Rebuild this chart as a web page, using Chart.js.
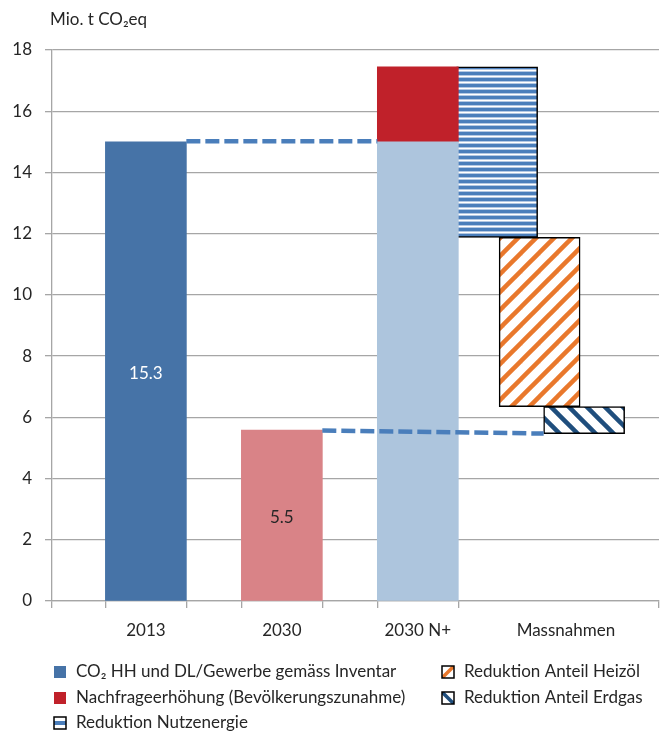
<!DOCTYPE html>
<html>
<head>
<meta charset="utf-8">
<script src="https://cdn.jsdelivr.net/npm/chart.js@4.4.1/dist/chart.umd.min.js"></script>
<style>
  html, body { margin: 0; background: #fff; }
  #wrap { width: 671px; height: 740px; }
</style>
</head>
<body>
<div id="wrap"><canvas id="chart"></canvas></div>
<script>
// values
const categories = ["2013", "2030", "2030 N+", "Massnahmen"];
const categoryX = [2.32, 5.68, 9.04, 12.7];
const baseValues = [15.0, 5.58, 15.0];
const baseLabels = ["15.3", "5.5", ""];
const demandIncrease = [15.0, 17.45];
const stepX = [11.0, 12.05, 13.15];
const reductionNutzenergie = [11.88, 17.45];
const reductionHeizoel = [6.35, 11.88];
const reductionErdgas = [5.47, 6.35];
const link2013 = [15.02, 15.02];
const link2030 = [5.57, 5.47];
const seriesNames = [
  "CO₂ HH und DL/Gewerbe gemäss Inventar",
  "Nachfrageerhöhung (Bevölkerungszunahme)",
  "Reduktion Nutzenergie",
  "Reduktion Anteil Heizöl",
  "Reduktion Anteil Erdgas",
];

const FONT = "Lato, 'Liberation Sans', sans-serif";
const TEXT = "#262626";
const GRID = "#a6a6a6";
const HALF = 1; // half bar width in x units
const baseColors = ["#4673a7", "#d98387", "#adc5dd"];
const RED = "#c0212a";
const LINK = "#4a7ebb";

const ctx0 = document.getElementById("chart").getContext("2d");

const stripes = () => {
  const c = document.createElement("canvas");
  c.width = 6; c.height = 6;
  const g = c.getContext("2d");
  g.fillStyle = "#fff"; g.fillRect(0, 0, 6, 6);
  g.fillStyle = "#4a7ebb"; g.fillRect(0, 0, 6, 3);
  g.fillStyle = "#b3c8e3"; g.fillRect(0, 3, 6, 1); g.fillRect(0, 5, 6, 1);
  return ctx0.createPattern(c, "repeat");
};
const diagonal = (color, up) => {
  const s = 18;
  const c = document.createElement("canvas");
  c.width = s; c.height = s;
  const g = c.getContext("2d");
  g.fillStyle = "#fff"; g.fillRect(0, 0, s, s);
  g.strokeStyle = color; g.lineWidth = 4.5;
  const segs = up
    ? [[0, s, s, 0], [-s / 2, s / 2, s / 2, -s / 2], [s / 2, s * 1.5, s * 1.5, s / 2]]
    : [[0, 0, s, s], [-s / 2, s / 2, s / 2, s * 1.5], [s / 2, -s / 2, s * 1.5, s / 2]];
  segs.forEach(([a, b, c2, d]) => { g.beginPath(); g.moveTo(a, b); g.lineTo(c2, d); g.stroke(); });
  return ctx0.createPattern(c, "repeat");
};

const oilColor = "#e9782c";
const gasColor = "#1f4e7d";

const barCommon = { grouped: false, barThickness: 81, borderSkipped: false, order: 1 };
const linkStyle = { type: "line", borderColor: LINK, borderWidth: 4.5, borderDash: [14, 5], pointRadius: 0, order: 0 };

const datasets = [
  {
    ...barCommon,
    label: seriesNames[0],
    data: baseValues.map((v, i) => ({ x: categoryX[i], y: [0, v] })),
    backgroundColor: baseColors,
  },
  {
    ...barCommon,
    label: seriesNames[1],
    data: [{ x: categoryX[2], y: demandIncrease }],
    backgroundColor: RED,
  },
  {
    ...barCommon,
    label: seriesNames[2],
    data: [{ x: stepX[0], y: reductionNutzenergie }],
    backgroundColor: stripes(),
    borderColor: "#000", borderWidth: 1.5,
  },
  {
    ...barCommon,
    label: seriesNames[3],
    data: [{ x: stepX[1], y: reductionHeizoel }],
    backgroundColor: diagonal(oilColor, true),
    borderColor: "#000", borderWidth: 1.5,
  },
  {
    ...barCommon,
    label: seriesNames[4],
    data: [{ x: stepX[2], y: reductionErdgas }],
    backgroundColor: diagonal(gasColor, false),
    borderColor: "#000", borderWidth: 1.5,
  },
  {
    ...linkStyle,
    data: [{ x: categoryX[0] + HALF, y: link2013[0] }, { x: categoryX[2] - HALF, y: link2013[1] }],
  },
  {
    ...linkStyle,
    data: [{ x: categoryX[1] + HALF, y: link2030[0] }, { x: stepX[2] - HALF, y: link2030[1] }],
  },
];

const edgeTicks = [0, 15];
categoryX.slice(0, 3).forEach((x) => edgeTicks.push(x - HALF, x + HALF));

const drawSwatch = (g, i, x, y) => {
  const s = 12;
  if (i < 2) {
    g.fillStyle = i === 0 ? baseColors[0] : RED;
    g.fillRect(x, y, s, s);
    return;
  }
  g.fillStyle = "#fff";
  g.fillRect(x, y, s, s);
  g.save();
  g.beginPath(); g.rect(x, y, s, s); g.clip();
  if (i === 2) {
    g.fillStyle = "#4a7ebb";
    g.fillRect(x, y + 4, s, 4);
  } else {
    g.strokeStyle = i === 3 ? oilColor : gasColor;
    g.lineWidth = 3.5;
    g.beginPath();
    if (i === 3) { g.moveTo(x, y + s); g.lineTo(x + s, y); }
    else { g.moveTo(x, y); g.lineTo(x + s, y + s); }
    g.stroke();
  }
  g.restore();
  g.strokeStyle = "#000"; g.lineWidth = 1.5;
  g.strokeRect(x, y, s, s);
};

const extras = {
  id: "extras",
  afterDatasetsDraw(chart) {
    const g = chart.ctx;
    g.save();
    g.font = `17px ${FONT}`;
    g.textAlign = "center";
    g.textBaseline = "middle";
    chart.getDatasetMeta(0).data.forEach((bar, i) => {
      if (!baseLabels[i]) return;
      g.fillStyle = i === 0 ? "#fff" : TEXT;
      g.fillText(baseLabels[i], bar.x, (bar.y + bar.base) / 2 + 2);
    });
    g.restore();
  },
  afterDraw(chart) {
    const g = chart.ctx;
    g.save();
    g.font = `17px ${FONT}`;
    g.fillStyle = TEXT;
    g.textBaseline = "middle";
    g.textAlign = "left";
    g.fillText("Mio. t CO₂eq", 50, 20);
    const cols = [54, 442];
    const rows = [672, 698, 723];
    const place = [[0, 0], [0, 1], [0, 2], [1, 0], [1, 1]];
    seriesNames.forEach((name, i) => {
      const x = cols[place[i][0]];
      const y = rows[place[i][1]];
      drawSwatch(g, i, x, y - 6);
      g.fillStyle = TEXT;
      g.fillText(name, x + 22, y);
    });
    g.restore();
  },
};

new Chart(ctx0, {
  type: "bar",
  data: { datasets },
  plugins: [extras],
  options: {
    responsive: true,
    maintainAspectRatio: false,
    animation: false,
    layout: { padding: { top: 50, right: 12, left: 0, bottom: 0 } },
    plugins: { legend: { display: false }, tooltip: { enabled: false } },
    scales: {
      x: {
        type: "linear",
        min: 0,
        max: 15,
        offset: false,
        afterBuildTicks: (scale) => {
          scale.ticks = [...edgeTicks, ...categoryX].sort((a, b) => a - b).map((v) => ({ value: v }));
        },
        afterFit: (scale) => { scale.height = 139; },
        ticks: {
          autoSkip: false,
          maxRotation: 0,
          padding: 12,
          color: TEXT,
          font: { family: FONT, size: 17 },
          callback: (v) => {
            const i = categoryX.indexOf(v);
            return i >= 0 ? categories[i] : "";
          },
        },
        grid: {
          offset: false,
          drawOnChartArea: false,
          tickLength: 7,
          lineWidth: 1.3,
          tickColor: (c) => (categoryX.includes(c.tick && c.tick.value) ? "rgba(0,0,0,0)" : GRID),
        },
        border: { color: GRID, width: 1.3 },
      },
      y: {
        min: 0,
        max: 18,
        afterFit: (scale) => { scale.width = 52; },
        ticks: {
          stepSize: 2,
          padding: 13,
          color: TEXT,
          font: { family: FONT, size: 17 },
        },
        grid: { color: GRID, lineWidth: 1.3, tickLength: 7 },
        border: { color: GRID, width: 1.3 },
      },
    },
  },
});
</script>
</body>
</html>
